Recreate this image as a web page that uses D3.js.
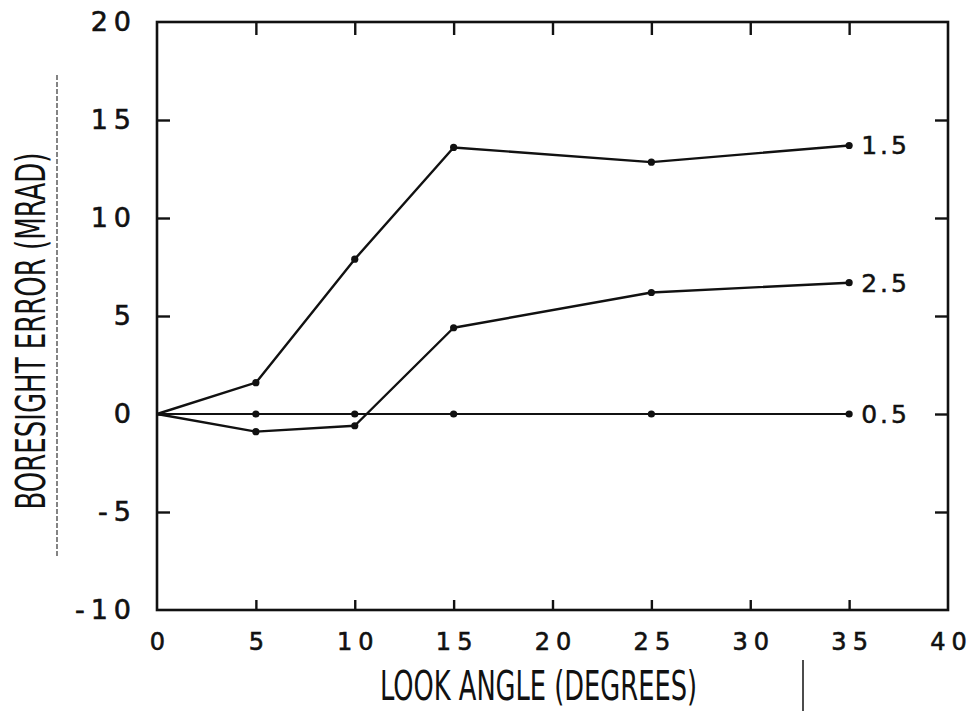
<!DOCTYPE html>
<html>
<head>
<meta charset="utf-8">
<script src="https://cdn.jsdelivr.net/npm/d3@7"></script>
<style>
  html, body { margin: 0; padding: 0; background: #fff; }
  svg { display: block; }
  .tick text { font-family: "DejaVu Sans", sans-serif; fill: #111; stroke: #111; stroke-width: 0.6px; }
</style>
</head>
<body>
<svg id="chart" width="973" height="711"></svg>
<script>
// ---- data ----
const lookAngles = [0, 5, 10, 15, 25, 35];
const series15 = [0, 1.6, 7.9, 13.6, 12.85, 13.7];
const series25 = [0, -0.9, -0.6, 4.4, 6.2, 6.7];
const series05 = [0, 0, 0, 0, 0, 0];
const seriesLabels = ["1.5", "2.5", "0.5"];
const xTickValues = [0, 5, 10, 15, 20, 25, 30, 35, 40];
const yTickValues = [-10, -5, 0, 5, 10, 15, 20];
const xTitle = "LOOK ANGLE (DEGREES)";
const yTitle = "BORESIGHT ERROR (MRAD)";

// ---- layout ----
const svg = d3.select("#chart");
const pLeft = 157, pRight = 948, pTop = 22, pBottom = 610;
const ink = "#111";

const x = d3.scaleLinear().domain([0, 40]).range([pLeft, pRight]);
const y = d3.scaleLinear().domain([-10, 20]).range([pBottom, pTop]);
const fmt = d => String(d); // plain hyphen-minus, as lettered in the original

// frame
svg.append("rect")
  .attr("x", pLeft).attr("y", pTop)
  .attr("width", pRight - pLeft).attr("height", pBottom - pTop)
  .attr("fill", "none").attr("stroke", ink).attr("stroke-width", 2.6);

const inner = v => v !== xTickValues[0] && v !== xTickValues[xTickValues.length - 1];
const innerY = v => v !== yTickValues[0] && v !== yTickValues[yTickValues.length - 1];

// bottom axis
const gB = svg.append("g").attr("transform", `translate(0,${pBottom})`)
  .call(d3.axisBottom(x).tickValues(xTickValues).tickSize(0).tickPadding(23).tickFormat(fmt));
gB.selectAll(".tick text").attr("font-size", 24).attr("letter-spacing", 6).attr("dx", 3);
svg.append("g").attr("transform", `translate(0,${pBottom})`)
  .call(d3.axisBottom(x).tickValues(xTickValues.filter(inner)).tickSize(-10).tickFormat(""));

// top axis
svg.append("g").attr("transform", `translate(0,${pTop})`)
  .call(d3.axisTop(x).tickValues(xTickValues.filter(inner)).tickSize(-13).tickFormat(""));

// left axis
const gL = svg.append("g").attr("transform", `translate(${pLeft},0)`)
  .call(d3.axisLeft(y).tickValues(yTickValues).tickSize(0).tickPadding(20).tickFormat(fmt));
gL.selectAll(".tick text").attr("font-size", 27).attr("letter-spacing", 6);
svg.append("g").attr("transform", `translate(${pLeft},0)`)
  .call(d3.axisLeft(y).tickValues(yTickValues.filter(innerY)).tickSize(-13).tickFormat(""));

// right axis
svg.append("g").attr("transform", `translate(${pRight},0)`)
  .call(d3.axisRight(y).tickValues(yTickValues.filter(innerY)).tickSize(-13).tickFormat(""));

svg.selectAll(".domain").remove();
svg.selectAll(".tick line").attr("stroke", ink).attr("stroke-width", 2.4);

// series
const allSeries = [series15, series25, series05];
const line = d3.line().x((d, i) => x(lookAngles[i])).y(d => y(d));
allSeries.forEach((s, k) => {
  svg.append("path").datum(s)
    .attr("d", line)
    .attr("fill", "none").attr("stroke", ink)
    .attr("stroke-width", k === 2 ? 2 : 2.4)
    .attr("stroke-linejoin", "round");
  svg.append("g").selectAll("circle").data(s.slice(1)).join("circle")
    .attr("cx", (d, i) => x(lookAngles[i + 1]))
    .attr("cy", d => y(d))
    .attr("r", 3.6).attr("fill", ink);
  const last = s[s.length - 1];
  svg.append("text")
    .attr("x", x(lookAngles[lookAngles.length - 1]) + 12)
    .attr("y", y(last))
    .attr("dy", "0.36em")
    .attr("font-family", "DejaVu Sans, sans-serif")
    .attr("font-size", 25).attr("letter-spacing", 3)
    .attr("fill", ink).attr("stroke", ink).attr("stroke-width", 0.5)
    .text(seriesLabels[k]);
});

// axis titles
svg.append("text")
  .attr("x", 380).attr("y", 700)
  .attr("font-family", "'Liberation Sans Narrow', 'DejaVu Sans Condensed', sans-serif")
  .attr("font-size", 41)
  .attr("textLength", 317).attr("lengthAdjust", "spacingAndGlyphs")
  .attr("fill", ink)
  .text(xTitle);

svg.append("text")
  .attr("transform", "translate(45,331) rotate(-90)")
  .attr("text-anchor", "middle")
  .attr("font-family", "'Liberation Sans Narrow', 'DejaVu Sans Condensed', sans-serif")
  .attr("font-size", 41)
  .attr("textLength", 357).attr("lengthAdjust", "spacingAndGlyphs")
  .attr("fill", ink)
  .text(yTitle);

// scan marks present in the original figure
svg.append("line").attr("x1", 57).attr("x2", 57).attr("y1", 75).attr("y2", 557)
  .attr("stroke", "#333").attr("stroke-width", 1.2).attr("stroke-dasharray", "5,2");
svg.append("line").attr("x1", 803).attr("x2", 803).attr("y1", 660).attr("y2", 711)
  .attr("stroke", ink).attr("stroke-width", 1.5);
</script>
</body>
</html>
